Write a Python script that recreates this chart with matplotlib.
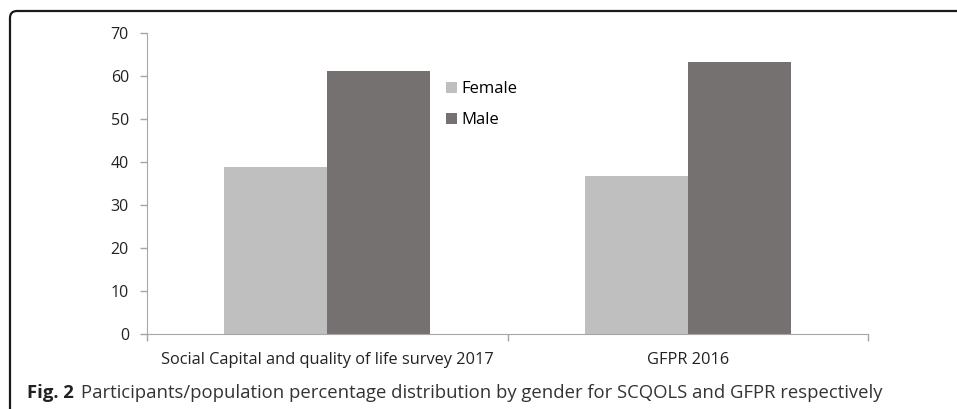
import matplotlib
matplotlib.use('Agg')
import matplotlib.pyplot as plt
from matplotlib.patches import FancyBboxPatch

categories = ['Social Capital and quality of life survey 2017', 'GFPR 2016']
female = [38.9, 36.8]
male = [61.1, 63.2]
series_labels = ['Female', 'Male']
yticks = [0, 10, 20, 30, 40, 50, 60, 70]
caption_bold = 'Fig. 2'
caption_text = 'Participants/population percentage distribution by gender for SCQOLS and GFPR respectively'

W, H = 957, 409
fig = plt.figure(figsize=(W / 100, H / 100), dpi=100)
fig.patch.set_facecolor('white')

font = ['Open Sans', 'DejaVu Sans']

# rounded frame around the figure (only top and left edges visible)
frame = FancyBboxPatch((10 / 100, -1.0), 20.0, (H - 11) / 100 + 1.0,
                       boxstyle='round,pad=0,rounding_size=0.07',
                       transform=fig.dpi_scale_trans,
                       facecolor='none', edgecolor='#1a1a1a', linewidth=1.6)
fig.patches.append(frame)

ax = fig.add_axes([147 / W, 75 / H, (868 - 147) / W, 301 / H])

x = list(range(len(categories)))
width = 0.286
ax.bar([i - width / 2 for i in x], female, width, color='#bfbfbf', label=series_labels[0])
ax.bar([i + width / 2 for i in x], male, width, color='#767171', label=series_labels[1])

ax.set_xlim(-0.5, len(categories) - 0.5)
ax.set_ylim(0, 70)
ax.set_yticks(yticks)
ax.set_yticklabels([str(t) for t in yticks], family=font, fontsize=11.5, color='#222222')

# category labels with boundary ticks
ax.set_xticks(x)
ax.set_xticklabels(categories, family=font, fontsize=11.8, color='#222222')
ax.tick_params(axis='x', length=0, pad=13)
ax.set_xticks([-0.5, 0.5, 1.5], minor=True)
ax.tick_params(axis='x', which='minor', length=5, color='#a6a6a6', width=1)
ax.tick_params(axis='y', length=5, color='#a6a6a6', width=1, pad=8)

for s in ['top', 'right']:
    ax.spines[s].set_visible(False)
ax.spines['left'].set_color('#a6a6a6')
ax.spines['bottom'].set_color('#a6a6a6')

leg = ax.legend(loc='upper left', bbox_to_anchor=(431 / W, 1 - 66 / H),
                bbox_transform=fig.transFigure, frameon=False,
                handlelength=0.65, handleheight=0.65, handletextpad=0.25,
                labelspacing=0.9, prop={'family': font, 'size': 12})

ty = 1 - 393 / H
t1 = fig.text(27 / W, ty, caption_bold, fontsize=13.3, fontweight='bold',
              family=font, va='center', ha='left', color='#222222')
fig.canvas.draw()
bb = t1.get_window_extent()
fig.text((bb.x1 + 7) / W, ty, caption_text, fontsize=13.3, family=font,
         va='center', ha='left', color='#333333')

fig.savefig('out.png', dpi=100, facecolor='white')
